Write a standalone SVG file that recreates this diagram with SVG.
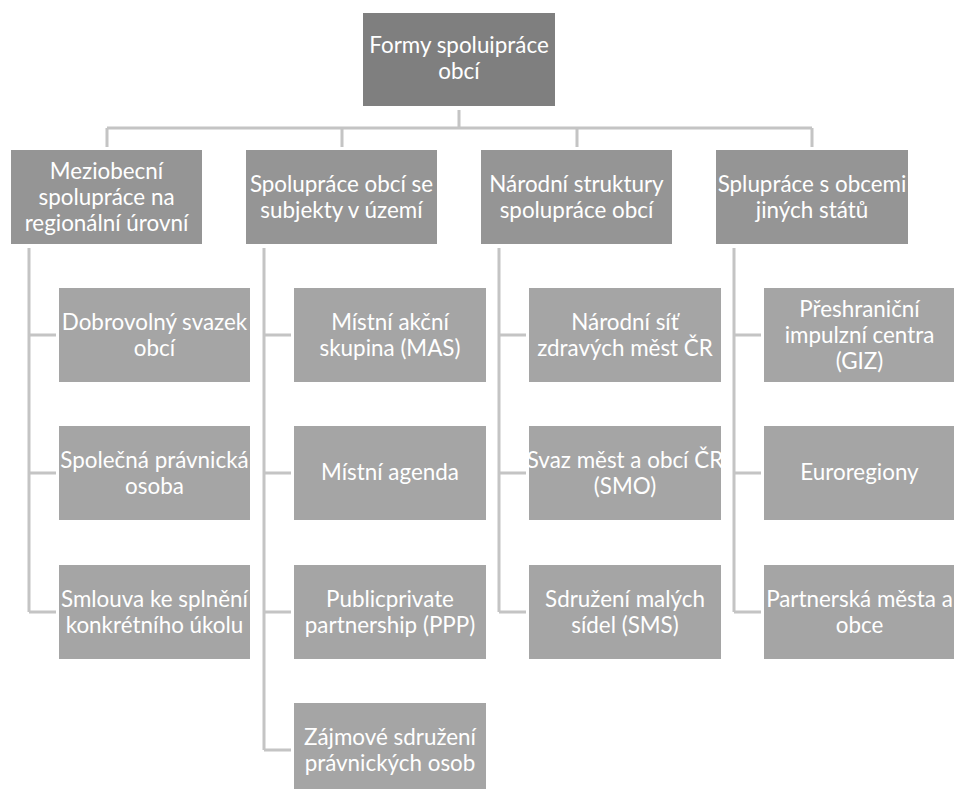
<svg xmlns="http://www.w3.org/2000/svg" width="954" height="789" viewBox="0 0 954 789">
<style>
text{font-family:"Lato","Open Sans",sans-serif;font-size:22.4px;fill:#ffffff;text-anchor:middle}
.root{fill:#7f7f7f}
.l1{fill:#959595}
.l2{fill:#a5a5a5}
.conn{stroke:#c4c4c4;stroke-width:3;fill:none}
</style>
<rect width="954" height="789" fill="#ffffff"/>
<g id="connectors" class="conn">
<path d="M459 110V128M107 128H812M107 128V147M342 128V147M577 128V147M812 128V147"/>
<path d="M29 248V612M29 335H56M29 473H56M29 612H56"/>
<path d="M264 248V750M264 335H291M264 473H291M264 612H291M264 750H291"/>
<path d="M499 248V612M499 335H526M499 473H526M499 612H526"/>
<path d="M734 248V612M734 335H761M734 473H761M734 612H761"/>
</g>
<g id="root"><rect class="root" x="363" y="13" width="192" height="93"/><text x="459" y="53">Formy spoluipráce</text><text x="459" y="79">obcí</text></g>
<g id="n1"><rect class="l1" x="11" y="150" width="191" height="94"/><text x="106.5" y="179">Meziobecní</text><text x="106.5" y="205">spolupráce na</text><text x="106.5" y="231">regionální úrovní</text></g>
<g id="n2"><rect class="l1" x="246" y="150" width="191" height="94"/><text x="341.5" y="192">Spolupráce obcí se</text><text x="341.5" y="218">subjekty v území</text></g>
<g id="n3"><rect class="l1" x="481" y="150" width="191" height="94"/><text x="576.5" y="192">Národní struktury</text><text x="576.5" y="218">spolupráce obcí</text></g>
<g id="n4"><rect class="l1" x="716" y="150" width="192" height="94"/><text x="812" y="192">Splupráce s obcemi</text><text x="812" y="218">jiných států</text></g>
<g id="n1a"><rect class="l2" x="59" y="288" width="191" height="94"/><text x="154.5" y="330">Dobrovolný svazek</text><text x="154.5" y="356">obcí</text></g>
<g id="n1b"><rect class="l2" x="59" y="426" width="191" height="94"/><text x="154.5" y="468">Společná právnická</text><text x="154.5" y="494">osoba</text></g>
<g id="n1c"><rect class="l2" x="59" y="565" width="191" height="94"/><text x="154.5" y="607">Smlouva ke splnění</text><text x="154.5" y="633">konkrétního úkolu</text></g>
<g id="n2a"><rect class="l2" x="294" y="288" width="192" height="94"/><text x="390" y="330">Místní akční</text><text x="390" y="356">skupina (MAS)</text></g>
<g id="n2b"><rect class="l2" x="294" y="426" width="192" height="94"/><text x="390" y="480">Místní agenda</text></g>
<g id="n2c"><rect class="l2" x="294" y="565" width="192" height="94"/><text x="390" y="607">Publicprivate</text><text x="390" y="633">partnership (PPP)</text></g>
<g id="n2d"><rect class="l2" x="294" y="703" width="192" height="94"/><text x="390" y="745">Zájmové sdružení</text><text x="390" y="771">právnických osob</text></g>
<g id="n3a"><rect class="l2" x="529" y="288" width="192" height="94"/><text x="625" y="330">Národní síť</text><text x="625" y="356">zdravých měst ČR</text></g>
<g id="n3b"><rect class="l2" x="529" y="426" width="192" height="94"/><text x="625" y="468">Svaz měst a obcí ČR</text><text x="625" y="494">(SMO)</text></g>
<g id="n3c"><rect class="l2" x="529" y="565" width="192" height="94"/><text x="625" y="607">Sdružení malých</text><text x="625" y="633">sídel (SMS)</text></g>
<g id="n4a"><rect class="l2" x="764" y="288" width="191" height="94"/><text x="859.5" y="317">Přeshraniční</text><text x="859.5" y="343">impulzní centra</text><text x="859.5" y="369">(GIZ)</text></g>
<g id="n4b"><rect class="l2" x="764" y="426" width="191" height="94"/><text x="859.5" y="480">Euroregiony</text></g>
<g id="n4c"><rect class="l2" x="764" y="565" width="191" height="94"/><text x="859.5" y="607">Partnerská města a</text><text x="859.5" y="633">obce</text></g>
</svg>
